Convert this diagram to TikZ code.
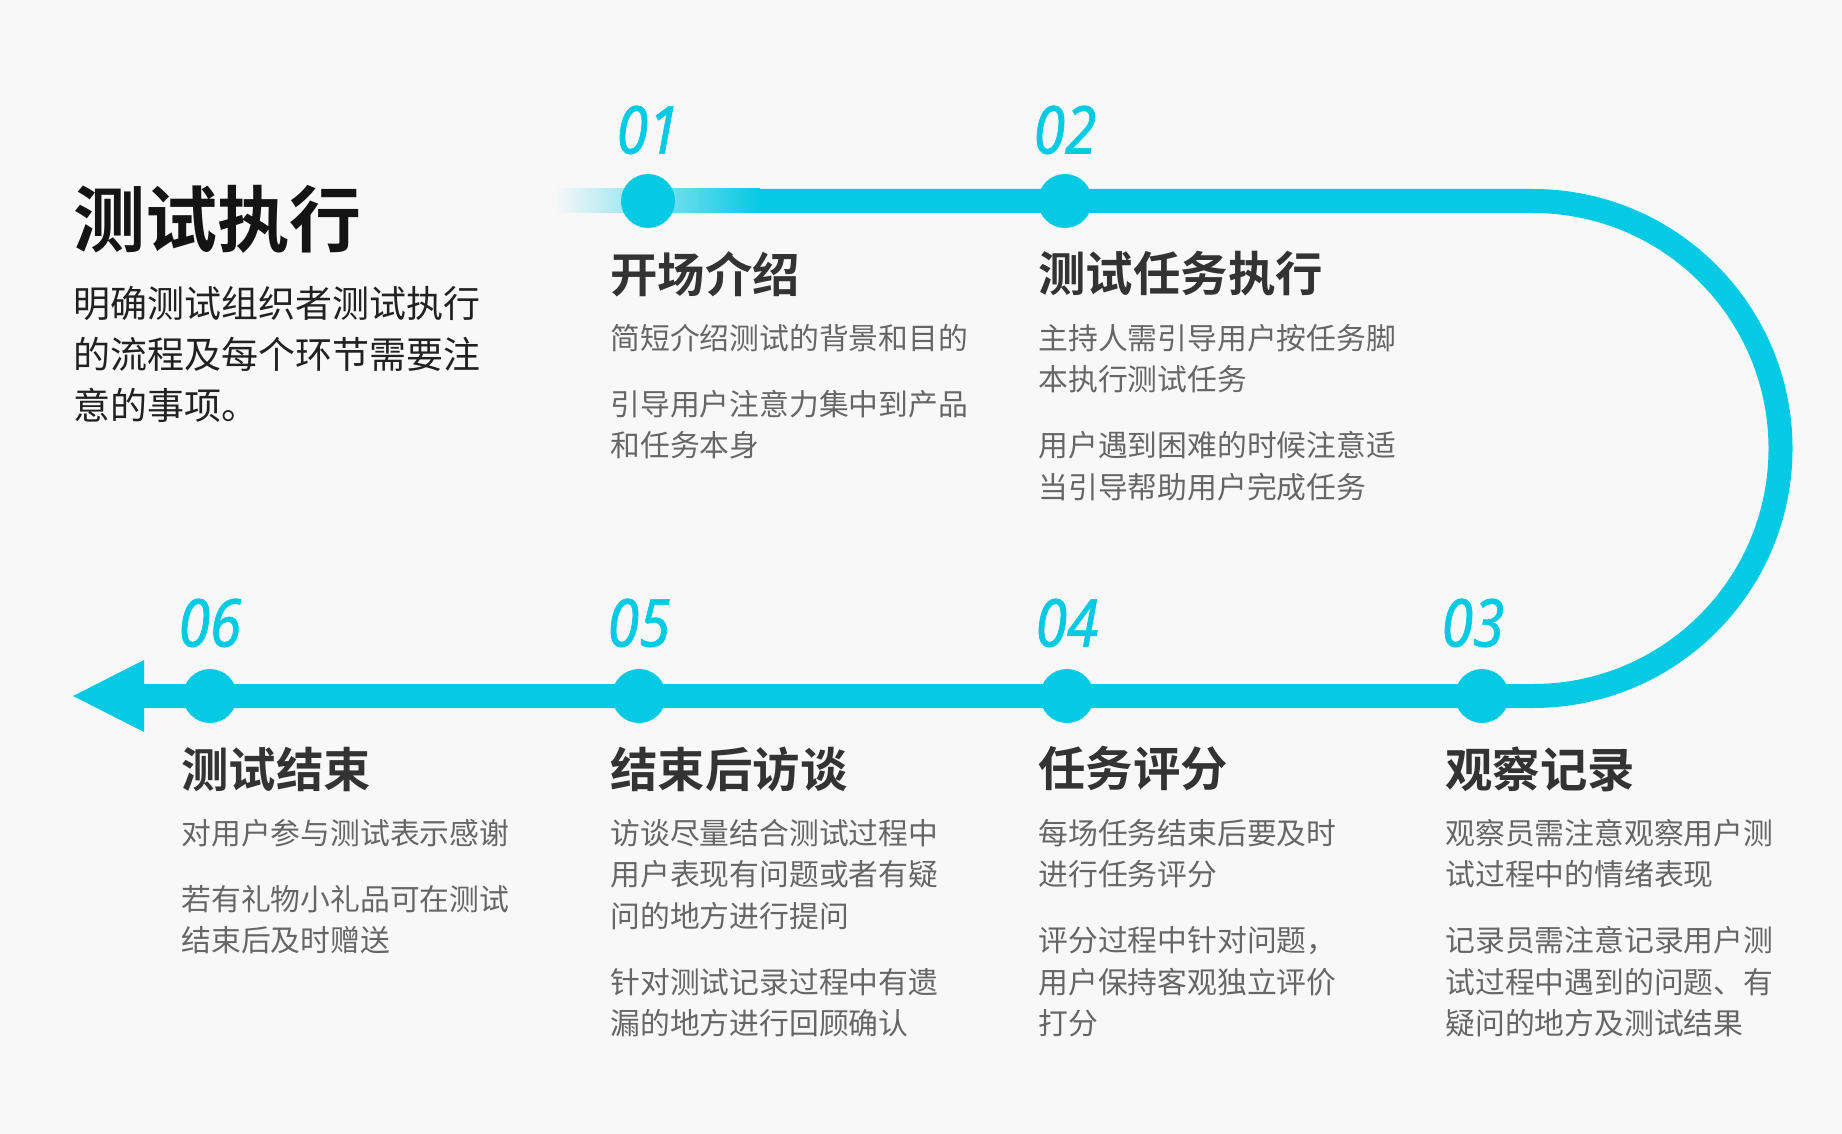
\documentclass[tikz,border=0pt]{standalone}
\usepackage{fontspec}
\setmainfont{Noto Sans CJK SC}[BoldFont={Noto Sans CJK SC Bold}]
\newfontfamily\numfont{Noto Sans}[FakeStretch=0.86, FakeBold=1]
\usetikzlibrary{positioning}
\definecolor{paperbg}{HTML}{F8F8F8}
\definecolor{railcyan}{HTML}{05CAE3}
\definecolor{headgray}{HTML}{333333}
\definecolor{bodygray}{HTML}{666666}
\pgfdeclarelayer{paper}
\pgfdeclarelayer{rail}
\pgfsetlayers{paper,rail,main}

\begin{document}
\begin{tikzpicture}[x=0.5pt, y=-0.5pt,
    dot/.style={circle, fill=railcyan, inner sep=0pt, minimum size=27pt},
    num/.style={inner sep=0pt, text=railcyan, font=\numfont\itshape\fontsize{33}{33}\selectfont},
    head/.style={anchor=west, inner sep=0pt, text=headgray, font=\bfseries\fontsize{23.7}{28}\selectfont},
    body/.style={anchor=north west, inner sep=0pt, align=left, text=bodygray, font=\fontsize{14.9}{20.75}\selectfont},
    railline/.style={draw=railcyan, line width=12pt}]

            %page
            \begin{pgfonlayer}{paper}
            \fill[paperbg] (0,0) rectangle (1842,1134);
            \end{pgfonlayer}
            \useasboundingbox (0,0) rectangle (1842,1134);

            %title
            \node (title) at (73,219) [anchor=west, inner sep=0pt, text=black!92, font=\bfseries\fontsize{36}{40}\selectfont] {测试执行};
            \node (intro) at (73,281) [anchor=north west, inner sep=0pt, align=left, text=black!87, font=\fontsize{18.5}{25.5}\selectfont] {\strut 明确测试组织者测试执行\\的流程及每个环节需要注\\意的事项。};

            %dots
            \node (d1) at (648,201) [dot] {};
            \node (d2) at (1065,201) [dot] {};
            \node (d3) at (1482,696) [dot] {};
            \node (d4) at (1067,696) [dot] {};
            \node (d5) at (639,696) [dot] {};
            \node (d6) at (210,696) [dot] {};
            \coordinate (fadeend) at (760,201);
            \coordinate (turn) at (1533,201);
            \coordinate (abase) at (144,696);
            \coordinate (tip) at (73,696);

            %numbers
            \node (n1) [num, above=9.5pt of d1] {01};
            \node (n2) [num, above=9.5pt of d2] {02};
            \node (n3) [num, above=10.5pt of d3, xshift=-4.5pt] {03};
            \node (n4) [num, above=10.5pt of d4] {04};
            \node (n5) [num, above=10.5pt of d5] {05};
            \node (n6) [num, above=10.5pt of d6] {06};

            %rail
            \begin{pgfonlayer}{rail}
            \fill[left color=paperbg, right color=railcyan] (555,189) rectangle (fadeend |- 0,213);
            \draw[railline] (fadeend) -- (d2.center) -- (turn) arc[start angle=-90, end angle=90, radius=247.5] -- (d3.center) -- (d4.center) -- (d5.center) -- (d6.center) -- (abase);
            \fill[railcyan] (tip) -- (abase |- 0,660) -- (abase |- 0,732) -- cycle;
            \end{pgfonlayer}

            %headings
            \node (h1) at (610,274) [head] {开场介绍};
            \node (h2) at (1038,274) [head] {测试任务执行};
            \node (h3) at (1445,769) [head] {观察记录};
            \node (h4) at (1038,769) [head] {任务评分};
            \node (h5) at (610,769) [head] {结束后访谈};
            \node (h6) at (181,769) [head] {测试结束};

            %notes
            \node (b1) at (610,320) [body] {\strut 简短介绍测试的背景和目的\\[12.25pt]引导用户注意力集中到产品\\和任务本身};
            \node (b2) at (1038,320) [body] {\strut 主持人需引导用户按任务脚\\本执行测试任务\\[12.25pt]用户遇到困难的时候注意适\\当引导帮助用户完成任务};
            \node (b3) at (1445,815) [body] {\strut 观察员需注意观察用户测\\试过程中的情绪表现\\[12.25pt]记录员需注意记录用户测\\试过程中遇到的问题、有\\疑问的地方及测试结果};
            \node (b4) at (1038,815) [body] {\strut 每场任务结束后要及时\\进行任务评分\\[12.25pt]评分过程中针对问题，\\用户保持客观独立评价\\打分};
            \node (b5) at (610,815) [body] {\strut 访谈尽量结合测试过程中\\用户表现有问题或者有疑\\问的地方进行提问\\[12.25pt]针对测试记录过程中有遗\\漏的地方进行回顾确认};
            \node (b6) at (181,815) [body] {\strut 对用户参与测试表示感谢\\[12.25pt]若有礼物小礼品可在测试\\结束后及时赠送};

    \end{tikzpicture}
\end{document}
